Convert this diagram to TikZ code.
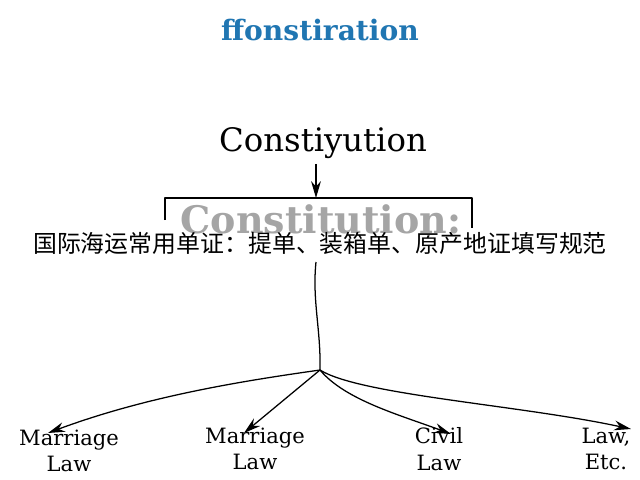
\documentclass[tikz,border=0pt]{standalone}
\usepackage{fontspec}
\setmainfont{DejaVu Serif}
\newfontfamily\cjk{Noto Sans CJK SC}
\usetikzlibrary{arrows.meta}
\definecolor{titleblue}{RGB}{32,118,178}
\definecolor{ghostgray}{RGB}{165,165,165}

\tikzset{leaf/.style={align=center,font=\fontsize{15}{19}\selectfont,inner sep=0pt}}

\begin{document}
\begin{tikzpicture}
            [x=0.025cm,y=-0.025cm,->,>={Stealth[length=12pt,width=7pt]},line width=0.9pt]
            \useasboundingbox (0,0) rectangle (640,480);

            \node (title) at (320,30) [text=titleblue,font=\fontsize{20}{24}\selectfont\bfseries] {ffonstiration};
            \node (top) at (323,143) [font=\fontsize{23}{26}\selectfont] {Constiyution};

            % bracket round the grey heading
            \draw [-,thick,line join=round] (165,220) -- (165,198) coordinate (bl) -- (472,198) coordinate (br) -- (472,228);
            \coordinate (bm) at (316,198);
            \node (ghost) at (321,233) [anchor=base,text=ghostgray,font=\fontsize{27}{30}\selectfont\bfseries] {Constitution:};
            \node (banner) at (320,243) [inner sep=1pt,font=\cjk\fontsize{17}{20}\selectfont] {国际海运常用单证：提单、装箱单、原产地证填写规范};

            \coordinate (stem) at (316,262);
            \coordinate (fork) at (320,370);

            \node (l1) at (69,451) [leaf] {Marriage\\Law};
            \node (l2) at (255,449) [leaf] {Marriage\\Law};
            \node (l3) at (439,449) [leaf] {Civil\\Law};
            \node (l4) at (606,449) [leaf] {Law,\\Etc.};

            \coordinate (t1) at (48,433);
            \coordinate (t2) at (244,433);
            \coordinate (t3) at (451,434);
            \coordinate (t4) at (631,429);

            \draw (top.south -| bm) -- (bm);
            \draw [-] (stem) .. controls (312,300) and (321,330) .. (fork);
            \draw (fork) .. controls (250,380) and (150,395) .. (t1);
            \draw (fork) -- (t2);
            \draw (fork) .. controls (345,400) and (400,415) .. (t3);
            \draw (fork) .. controls (360,395) and (520,405) .. (t4);
        \end{tikzpicture}
\end{document}
